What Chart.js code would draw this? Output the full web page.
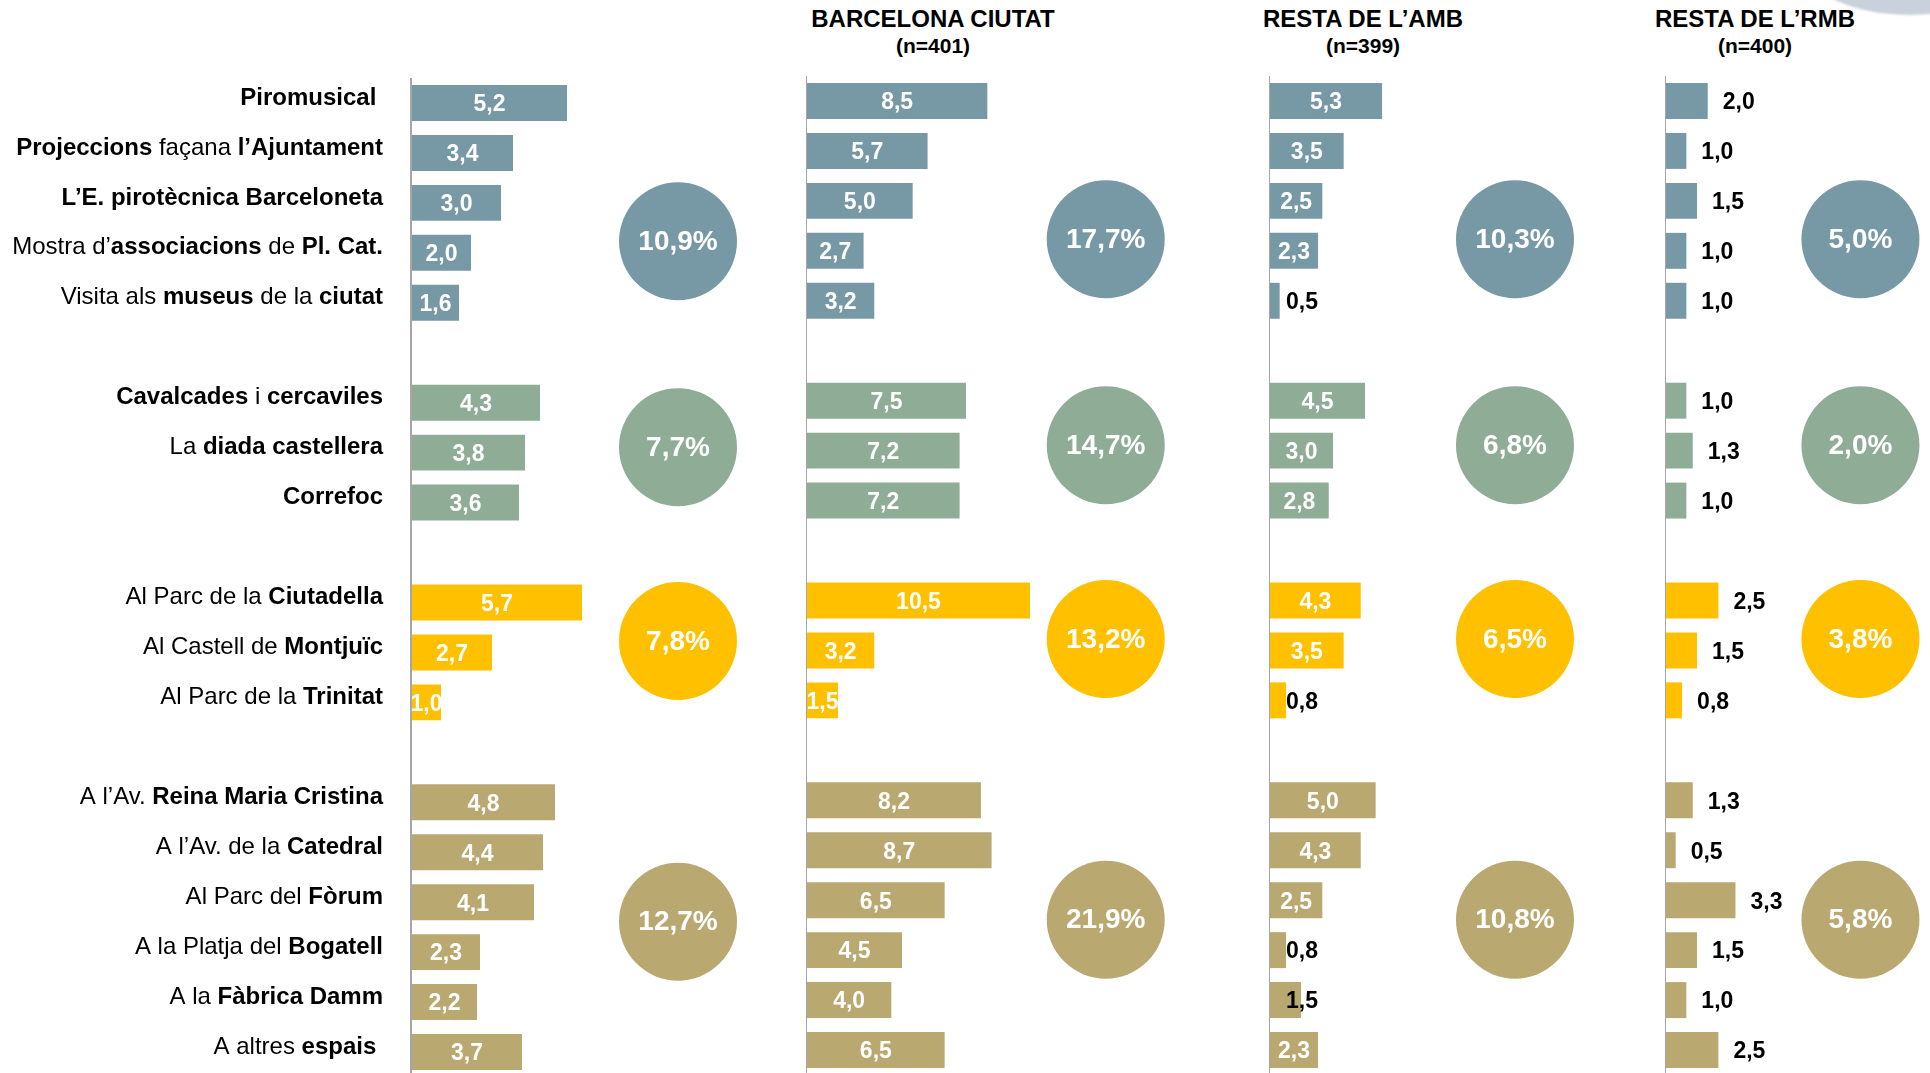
<!DOCTYPE html>
<html lang="ca">
<head>
<meta charset="utf-8">
<title>Espectacles de la Mercè</title>
<script src="https://cdn.jsdelivr.net/npm/chart.js@4.4.1/dist/chart.umd.min.js"></script>
<style>
  html, body { margin: 0; padding: 0; background: #fff; overflow: hidden; }
  body { width: 1930px; height: 1073px; position: relative; font-family: 'Liberation Sans', Arial, sans-serif; }
  .panel { position: absolute; top: 0; }
  .head { position: absolute; top: 5px; width: 360px; text-align: center; color: #000; font-weight: bold; }
  .head .t { display: block; font-size: 24px; line-height: 28px; white-space: nowrap; }
  .head .n { display: block; font-size: 21px; line-height: 26px; }
  .logo { position: absolute; left: 1797px; top: -105px; width: 226px; height: 120px; border-radius: 50%;
          background: #c8d1dc; filter: blur(1px); }
</style>
</head>
<body>
<div class="logo"></div>
<div class="head" style="left:753px"><span class="t">BARCELONA CIUTAT</span><span class="n">(n=401)</span></div>
<div class="head" style="left:1183px"><span class="t">RESTA DE L’AMB</span><span class="n">(n=399)</span></div>
<div class="head" style="left:1575px"><span class="t">RESTA DE L’RMB</span><span class="n">(n=400)</span></div>

<div class="panel" id="p1"><canvas id="c1"></canvas></div>
<div class="panel" id="p2"><canvas id="c2"></canvas></div>
<div class="panel" id="p3"><canvas id="c3"></canvas></div>
<div class="panel" id="p4"><canvas id="c4"></canvas></div>

<script>
const FONT = "'Liberation Sans', Arial, sans-serif";

// row labels per group, **text** = bold part
const rowLabels = [
    ['**Piromusical** ', '**Projeccions** façana **l’Ajuntament**', '**L’E. pirotècnica Barceloneta**',
     'Mostra d’**associacions** de **Pl. Cat.**', 'Visita als **museus** de la **ciutat**'],
    ['**Cavalcades** i **cercaviles**', 'La **diada castellera**', '**Correfoc**'],
    ['Al Parc de la **Ciutadella**', 'Al Castell de **Montjuïc**', 'Al Parc de la **Trinitat**'],
    ['A l’Av. **Reina Maria Cristina**', 'A l’Av. de la **Catedral**', 'Al Parc del **Fòrum**',
     'A la Platja del **Bogatell**', 'A la **Fàbrica Damm**', 'A altres **espais** ']
];

const totalValues = [[5.2, 3.4, 3.0, 2.0, 1.6], [4.3, 3.8, 3.6], [5.7, 2.7, 1.0], [4.8, 4.4, 4.1, 2.3, 2.2, 3.7]];
const bcnValues = [[8.5, 5.7, 5.0, 2.7, 3.2], [7.5, 7.2, 7.2], [10.5, 3.2, 1.5], [8.2, 8.7, 6.5, 4.5, 4.0, 6.5]];
const ambValues = [[5.3, 3.5, 2.5, 2.3, 0.5], [4.5, 3.0, 2.8], [4.3, 3.5, 0.8], [5.0, 4.3, 2.5, 0.8, 1.5, 2.3]];
const rmbValues = [[2.0, 1.0, 1.5, 1.0, 1.0], [1.0, 1.3, 1.0], [2.5, 1.5, 0.8], [1.3, 0.5, 3.3, 1.5, 1.0, 2.5]];

const totalShare = [10.9, 7.7, 7.8, 12.7];
const bcnShare = [17.7, 14.7, 13.2, 21.9];
const ambShare = [10.3, 6.8, 6.5, 10.8];
const rmbShare = [5.0, 2.0, 3.8, 5.8];

const groupColors = ['#7799a5', '#8fac97', '#ffc000', '#b9a970'];

// where the share circles sit (row index on the category axis)
const circleRows = [2.77, 6.89, 10.77, 16.39];

// flatten groups into rows with one blank row between groups
const rows = [];
const rowGroup = [];
rowLabels.forEach((g, gi) => {
    g.forEach(l => { rows.push(l); rowGroup.push(gi); });
    if (gi < rowLabels.length - 1) { rows.push(''); rowGroup.push(gi); }
});

function flatten(groups) {
    const out = [];
    groups.forEach((g, gi) => {
        out.push(...g);
        if (gi < groups.length - 1) out.push(null);
    });
    return out;
}

const fmt = v => v.toFixed(1).replace('.', ',');

const rowLabelPlugin = {
    id: 'rowLabels',
    afterDraw(chart, args, opts) {
        if (!opts.show) return;
        const { ctx, chartArea } = chart;
        const ys = chart.scales.y;
        ctx.save();
        ctx.fillStyle = '#000';
        ctx.textBaseline = 'middle';
        ctx.textAlign = 'left';
        rows.forEach((label, i) => {
            if (!label) return;
            const parts = label.split('**').map((t, k) => ({ t, bold: k % 2 === 1 })).filter(p => p.t);
            let w = 0;
            parts.forEach(p => {
                ctx.font = (p.bold ? 'bold ' : '') + '24px ' + FONT;
                p.w = ctx.measureText(p.t).width;
                w += p.w;
            });
            let x = chartArea.left - opts.gap - w;
            const y = ys.getPixelForValue(i) - opts.lift;
            parts.forEach(p => {
                ctx.font = (p.bold ? 'bold ' : '') + '24px ' + FONT;
                ctx.fillText(p.t, x, y);
                x += p.w;
            });
        });
        ctx.restore();
    }
};

const valueLabelPlugin = {
    id: 'valueLabels',
    afterDatasetsDraw(chart, args, opts) {
        const { ctx } = chart;
        const vals = chart.data.datasets[0].data;
        ctx.save();
        ctx.textBaseline = 'middle';
        ctx.font = 'bold 23px ' + FONT;
        chart.getDatasetMeta(0).data.forEach((el, i) => {
            const v = vals[i];
            if (v == null) return;
            const txt = fmt(v);
            const y = el.y + 2;
            if (opts.mode === 'outside') {
                ctx.textAlign = 'left';
                ctx.fillStyle = '#000';
                ctx.fillText(txt, el.x + 15, y);
            } else if (opts.mode === 'base' && v < 2) {
                ctx.textAlign = 'left';
                ctx.fillStyle = '#000';
                ctx.fillText(txt, el.base + 16, y);
            } else {
                ctx.textAlign = 'center';
                ctx.fillStyle = '#fff';
                ctx.fillText(txt, (el.x + el.base) / 2, y);
            }
        });
        const shares = chart.data.datasets[1].data;
        ctx.font = 'bold 28px ' + FONT;
        ctx.textAlign = 'center';
        ctx.fillStyle = '#fff';
        chart.getDatasetMeta(1).data.forEach((el, i) => {
            ctx.fillText(fmt(shares[i].share) + '%', el.x, el.y + 1);
        });
        ctx.restore();
    }
};

const panels = [
    { box: 'p1', canvas: 'c1', values: totalValues, shares: totalShare, left: 0, top: 0, axisWidth: 411, unit: 30, max: 12, circleAt: 8.9, labels: true, mode: 'inside' },
    { box: 'p2', canvas: 'c2', values: bcnValues, shares: bcnShare, left: 806, top: -2, axisWidth: 0, unit: 21.33, max: 18, circleAt: 14.05, labels: false, mode: 'inside' },
    { box: 'p3', canvas: 'c3', values: ambValues, shares: ambShare, left: 1269, top: -2, axisWidth: 0, unit: 21.33, max: 18, circleAt: 11.53, labels: false, mode: 'base' },
    { box: 'p4', canvas: 'c4', values: rmbValues, shares: rmbShare, left: 1665, top: -2, axisWidth: 0, unit: 21.33, max: 12.5, circleAt: 9.15, labels: false, mode: 'outside' }
];

const H = 1080;

panels.forEach(p => {
    const w = Math.round(p.axisWidth + p.unit * p.max);
    const box = document.getElementById(p.box);
    box.style.left = p.left + 'px';
    box.style.top = p.top + 'px';
    const canvas = document.getElementById(p.canvas);
    canvas.width = w;
    canvas.height = H;
    canvas.style.width = w + 'px';
    canvas.style.height = H + 'px';

    new Chart(canvas, {
        type: 'bar',
        data: {
            labels: rows,
            datasets: [{
                data: flatten(p.values),
                backgroundColor: rowGroup.map(g => groupColors[g]),
                barPercentage: 0.72,
                categoryPercentage: 1,
                grouped: false,
                borderWidth: 0
            }, {
                type: 'bubble',
                yAxisID: 'yb',
                data: p.shares.map((s, g) => ({ x: p.circleAt, y: circleRows[g], share: s })),
                backgroundColor: groupColors,
                radius: 59,
                borderWidth: 0,
                clip: false
            }]
        },
        options: {
            indexAxis: 'y',
            responsive: false,
            devicePixelRatio: 1,
            animation: false,
            events: [],
            layout: { autoPadding: false, padding: { top: 78, bottom: 3, left: 0, right: 0 } },
            plugins: {
                legend: { display: false },
                tooltip: { enabled: false },
                rowLabels: { show: p.labels, gap: 28, lift: 5 },
                valueLabels: { mode: p.mode }
            },
            scales: {
                x: {
                    type: 'linear',
                    min: 0,
                    max: p.max,
                    offset: false,
                    ticks: { display: false, stepSize: 1 },
                    border: { display: false },
                    grid: {
                        drawTicks: false,
                        lineWidth: 2,
                        color: c => (c.tick && c.tick.value === 0) ? '#a6a6a6' : 'rgba(0,0,0,0)'
                    }
                },
                y: {
                    type: 'category',
                    display: p.labels,
                    offset: true,
                    ticks: { display: false },
                    grid: { display: false },
                    border: { display: false },
                    afterFit: s => { s.width = p.axisWidth; }
                },
                yb: {
                    type: 'linear',
                    display: false,
                    offset: false,
                    reverse: true,
                    min: -0.5,
                    max: rows.length - 0.5
                }
            }
        },
        plugins: [rowLabelPlugin, valueLabelPlugin]
    });
});
</script>
</body>
</html>
